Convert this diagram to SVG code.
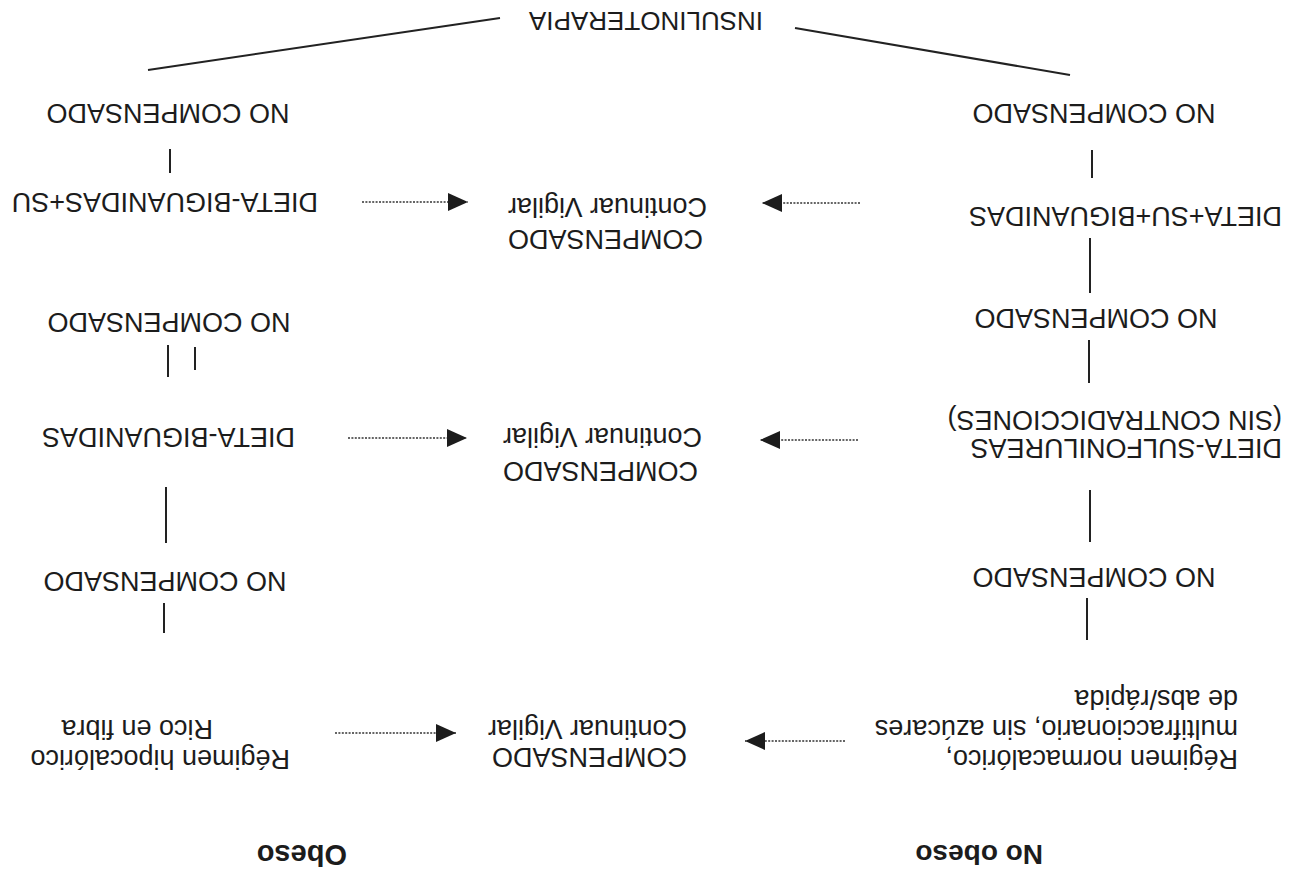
<svg xmlns="http://www.w3.org/2000/svg" width="1300" height="869" viewBox="0 0 1300 869">
<style>
.t{font-family:"Liberation Sans",Arial,sans-serif;font-size:27px;fill:#1c1c1c}
.b{font-weight:bold;font-size:28px}
.m{text-anchor:middle}
.ln{stroke:#222;stroke-width:2;fill:none}
.dot{stroke:#333;stroke-width:1.6;stroke-dasharray:2 1.4;fill:none}
</style>
<defs>
<marker id="ah" viewBox="0 0 20 18" refX="20" refY="9" markerWidth="20" markerHeight="18" markerUnits="userSpaceOnUse" orient="auto">
<path d="M0,0 L20,9 L0,18 Z" fill="#1c1c1c" stroke="none"/>
</marker>
</defs>
<rect width="1300" height="869" fill="#ffffff"/>
<g transform="rotate(180 650 434.5)">
<g id="insulinoterapia"><text class="t m" x="654" y="857" style="font-size:26px">INSULINOTERAPIA</text></g>

<g id="no-obeso"><text class="t b" x="257" y="24">No obeso</text></g>
<g id="regimen-normo"><text class="t" x="62" y="119">Régimen normacalórico,</text><text class="t" x="62" y="149">multifraccionario, sin azúcares</text><text class="t" x="62" y="179">de abs/rápida</text></g>
<g id="nc-r3"><text class="t m" x="206" y="301">NO COMPENSADO</text></g>
<g id="dieta-sulfo"><text class="t" x="18" y="430">DIETA-SULFONILUREAS</text><text class="t" x="18" y="458">(SIN CONTRADICCIONES)</text></g>
<g id="nc-r2"><text class="t m" x="204" y="560">NO COMPENSADO</text></g>
<g id="dieta-su-big"><text class="t" x="18" y="662">DIETA+SU+BIGUANIDAS</text></g>
<g id="nc-r1"><text class="t m" x="206" y="765">NO COMPENSADO</text></g>

<g id="comp-bottom"><text class="t" x="613" y="121">COMPENSADO</text><text class="t" x="613" y="149">Continuar Vigilar</text></g>
<g id="comp-mid"><text class="t" x="602" y="407">COMPENSADO</text><text class="t" x="598" y="441">Continuar Vigilar</text></g>
<g id="comp-top"><text class="t" x="597" y="639">COMPENSADO</text><text class="t" x="593" y="671">Continuar Vigilar</text></g>

<g id="obeso"><text class="t b" x="953" y="24" style="font-size:29px">Obeso</text></g>
<g id="regimen-hipo"><text class="t" x="1010" y="119">Régimen hipocalórico</text><text class="t" x="1087" y="149">Rico en fibra</text></g>
<g id="nc-l3"><text class="t m" x="1135" y="297">NO COMPENSADO</text></g>
<g id="dieta-big"><text class="t" x="1005" y="441">DIETA-BIGUANIDAS</text></g>
<g id="nc-l2"><text class="t m" x="1131" y="556">NO COMPENSADO</text></g>
<g id="dieta-big-su"><text class="t" x="982" y="676">DIETA-BIGUANIDAS+SU</text></g>
<g id="nc-l1"><text class="t m" x="1132" y="765">NO COMPENSADO</text></g>

<g id="connectors">
<line class="ln" x1="1152" y1="799" x2="800" y2="851"/>
<line class="ln" x1="505" y1="841" x2="230" y2="794"/>
<line class="ln" x1="208" y1="691" x2="208" y2="719"/>
<line class="ln" x1="210" y1="576" x2="210" y2="631"/>
<line class="ln" x1="211" y1="486" x2="211" y2="529"/>
<line class="ln" x1="210" y1="327" x2="210" y2="379"/>
<line class="ln" x1="213" y1="229" x2="213" y2="271"/>
<line class="ln" x1="1130" y1="696" x2="1130" y2="720"/>
<line class="ln" x1="1132" y1="492" x2="1132" y2="524"/>
<line class="ln" x1="1105" y1="499" x2="1105" y2="522"/>
<line class="ln" x1="1134" y1="326" x2="1134" y2="382"/>
<line class="ln" x1="1136" y1="236" x2="1136" y2="266"/>
<line class="dot" x1="938" y1="667" x2="832" y2="667" marker-end="url(#ah)"/>
<line class="dot" x1="440" y1="666" x2="538" y2="666" marker-end="url(#ah)"/>
<line class="dot" x1="952" y1="431" x2="833" y2="431" marker-end="url(#ah)"/>
<line class="dot" x1="442" y1="429" x2="540" y2="429" marker-end="url(#ah)"/>
<line class="dot" x1="965" y1="136" x2="844" y2="136" marker-end="url(#ah)"/>
<line class="dot" x1="455" y1="128" x2="555" y2="128" marker-end="url(#ah)"/>
</g>
</g>
</svg>
